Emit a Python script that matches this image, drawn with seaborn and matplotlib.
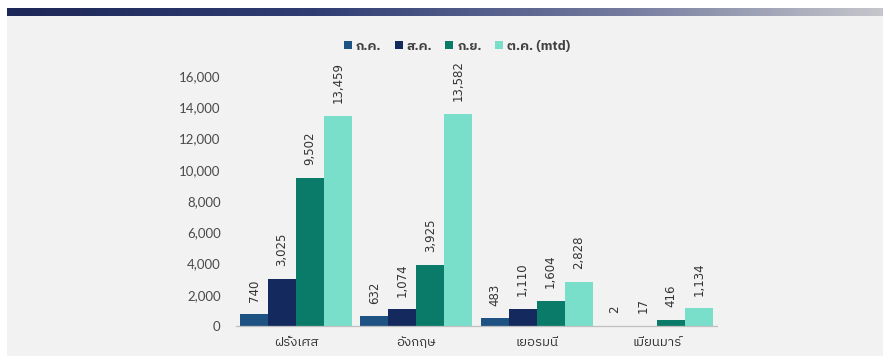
import numpy as np
import pandas as pd
import matplotlib
matplotlib.use("Agg")
import matplotlib.pyplot as plt
from matplotlib import font_manager as fm
from matplotlib.colors import LinearSegmentedColormap
import seaborn as sns

# ---- data ----
countries = ["ฝรั่งเศส", "อังกฤษ", "เยอรมนี", "เมียนมาร์"]
months = ["ก.ค.", "ส.ค.", "ก.ย.", "ต.ค. (mtd)"]
jul = [740, 632, 483, 2]
aug = [3025, 1074, 1110, 17]
sep = [9502, 3925, 1604, 416]
octm = [13459, 13582, 2828, 1134]
colors = ["#1d5282", "#142a5f", "#0a7a69", "#79dfcb"]

# ---- find a Thai-capable font ----
thai_font = None
try:
    from fontTools.ttLib import TTFont
    cands = sorted(fm.fontManager.ttflist, key=lambda f: (0 if "thai" in f.name.lower() else 1, f.name))
    for f in cands:
        if "CJK" in f.name:
            continue
        try:
            tt = TTFont(f.fname, fontNumber=0, lazy=True)
            cmap = tt.getBestCmap()
            if cmap and 0x0E01 in cmap:
                thai_font = f.name
                break
        except Exception:
            pass
except Exception:
    pass

sns.set_theme(style="white")
fam = ([thai_font] if thai_font else []) + ["DejaVu Sans"]
plt.rcParams["font.family"] = fam

df = pd.DataFrame({
    "country": np.repeat(countries, 4),
    "month": months * 4,
    "value": [v for row in zip(jul, aug, sep, octm) for v in row],
})

fig = plt.figure(figsize=(8.83, 3.56), dpi=100)
fig.patch.set_facecolor("white")
W, H = 883, 356
# grey panel (background axes)
gax = fig.add_axes([7 / W, 0, 1 - 7 / W, (H - 16) / H], zorder=-5)
gax.set_facecolor("#f2f2f2")
gax.set_xticks([]); gax.set_yticks([])
for s in gax.spines.values():
    s.set_visible(False)
# gradient band
bax = fig.add_axes([7 / W, (H - 16) / H, 1 - 7 / W, 8 / H])
cmap = LinearSegmentedColormap.from_list("band", [(0, "#1e2858"), (0.35, "#2f3d73"),
                                                   (0.7, "#737a9e"), (1, "#c6c6cc")])
bax.imshow(np.linspace(0, 1, 256)[None, :], aspect="auto", cmap=cmap, extent=[0, 1, 0, 1])
bax.set_axis_off()

ax = fig.add_axes([236 / W, 30 / H, (717 - 236) / W, (326 - 76) / H])
ax.set_facecolor("none")
sns.barplot(data=df, x="country", y="value", hue="month", hue_order=months,
            palette=colors, width=0.93, gap=0, saturation=1, ax=ax, legend=True,
            edgecolor="none", linewidth=0)
ax.set_ylim(0, 16000)
ax.set_xlim(-0.5, 3.5)
ax.set_yticks(range(0, 16001, 2000))
ax.yaxis.set_major_formatter(matplotlib.ticker.FuncFormatter(lambda v, p: f"{int(v):,}"))
ax.set_xlabel("")
ax.set_ylabel("")
for s in ["top", "right", "left"]:
    ax.spines[s].set_visible(False)
ax.spines["bottom"].set_color("#bfbfbf")
ax.spines["bottom"].set_linewidth(0.9)
ax.tick_params(axis="y", length=0, pad=11, labelsize=9.5, labelcolor="#4a4a4a")
ax.tick_params(axis="x", length=0, pad=7, labelsize=9.5, labelcolor="#333333")
for lab in ax.get_yticklabels():
    lab.set_fontfamily(["Lato", "DejaVu Sans"])

for cont in ax.containers:
    ax.bar_label(cont, labels=[f"{int(b.get_height()):,}" for b in cont], rotation=90,
                 padding=9, fontsize=8.5, color="#333333", family=["DejaVu Sans"])

h, l = ax.get_legend_handles_labels()
ax.get_legend().remove()
fig.legend(h, l, loc="center", bbox_to_anchor=(457 / W, (H - 46) / H), ncol=4, frameon=False,
           handlelength=0.6, handleheight=0.6, handletextpad=0.3, columnspacing=1.0,
           prop={"size": 9.5, "weight": "bold"}, labelcolor="#404040")

fig.savefig("out.png", dpi=100, facecolor=fig.get_facecolor())
